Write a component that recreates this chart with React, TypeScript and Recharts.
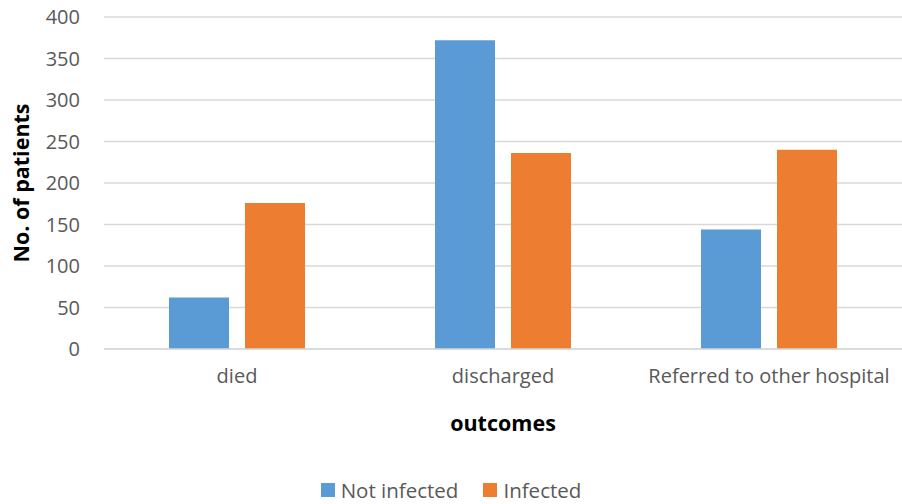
import { BarChart, Bar, XAxis, YAxis, CartesianGrid, Legend, Label } from 'recharts';

const outcomes = ['died', 'discharged', 'Referred to other hospital'];
const notInfected = [62, 372, 144];
const infected = [176, 236, 240];
const yTicks = [0, 50, 100, 150, 200, 250, 300, 350, 400];
const seriesOrder = ['Not infected', 'Infected'];

const data = outcomes.map((outcome, i) => ({
  outcome,
  notInfected: notInfected[i],
  infected: infected[i],
}));

const FONT = '"Open Sans", "Noto Sans", sans-serif';
const TEXT = '#595959';

// keep legend entries in series order rather than recharts' default sort
function LegendContent({ payload }: any) {
  const items = seriesOrder
    .map((name) => (payload || []).find((p: any) => p.value === name))
    .filter(Boolean);
  return (
    <div
      style={{
        height: 65,
        boxSizing: 'border-box',
        paddingTop: 37,
        display: 'flex',
        justifyContent: 'center',
        gap: 25,
        fontFamily: FONT,
        fontSize: 20.5,
        lineHeight: '28px',
        color: TEXT,
      }}
    >
      {items.map((item: any) => (
        <span key={item.value} style={{ display: 'inline-flex', alignItems: 'center' }}>
          <span style={{ width: 14, height: 14, background: item.color, marginRight: 6, display: 'inline-block' }} />
          {item.value}
        </span>
      ))}
    </div>
  );
}

export default function App() {
  return (
    <div style={{ position: 'absolute', left: 0, top: 0, width: 902, height: 504, background: '#fff' }}>
      <BarChart
        width={902}
        height={504}
        data={data}
        margin={{ top: 17, right: 0, bottom: 0, left: 0 }}
        barCategoryGap={65}
        barGap={16}
      >
        <CartesianGrid vertical={false} stroke="#D9D9D9" strokeWidth={1.5} />
        <XAxis
          dataKey="outcome"
          height={90}
          axisLine={{ stroke: '#D9D9D9', strokeWidth: 1.5 }}
          tickLine={false}
          tickMargin={14}
          tick={{ fill: TEXT, fontSize: 20, fontFamily: FONT }}
        >
          <Label
            value="outcomes"
            position="insideBottom"
            offset={8}
            style={{ fill: '#000', fontSize: 21.5, fontWeight: 700, fontFamily: FONT }}
          />
        </XAxis>
        <YAxis
          width={104}
          domain={[0, 400]}
          ticks={yTicks}
          axisLine={false}
          tickLine={false}
          tickMargin={18}
          tick={{ fill: TEXT, fontSize: 20, fontFamily: FONT }}
        >
          <Label
            value="No. of patients"
            angle={-90}
            position="insideLeft"
            offset={21}
            style={{ fill: '#000', fontSize: 21.5, fontWeight: 700, fontFamily: FONT, textAnchor: 'middle' }}
          />
        </YAxis>
        <Legend verticalAlign="bottom" height={65} content={<LegendContent />} />
        <Bar dataKey="notInfected" name="Not infected" fill="#5B9BD5" isAnimationActive={false} />
        <Bar dataKey="infected" name="Infected" fill="#ED7D31" isAnimationActive={false} />
      </BarChart>
    </div>
  );
}
